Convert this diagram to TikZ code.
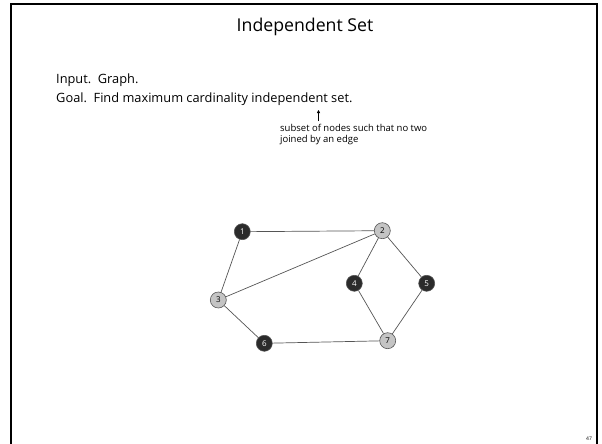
\documentclass[tikz,border=0pt]{standalone}
\usepackage{fontspec}
\setmainfont{Open Sans}
\usetikzlibrary{arrows.meta}
\definecolor{darknode}{HTML}{2B2B2B}
\definecolor{lightnode}{HTML}{C4C4C4}
\definecolor{edgegray}{HTML}{555555}
\tikzset{
  vtx/.style={circle, draw=edgegray, line width=0.6pt, minimum size=16pt, inner sep=0pt, font=\fontsize{8}{8}\selectfont},
  darkvtx/.style={vtx, fill=darknode, text=white},
  lightvtx/.style={vtx, fill=lightnode, text=black},
  edge/.style={draw=edgegray, line width=0.7pt},
  bodytext/.style={anchor=base west, inner sep=0pt, font=\fontsize{12.8}{13}\selectfont},
  note/.style={anchor=base west, inner sep=0pt, font=\fontsize{9.5}{10}\selectfont}
}
\begin{document}
\begin{tikzpicture}[x=1pt, y=-1pt]
\useasboundingbox (0,0) rectangle (602,444);
% slide frame, open at the bottom
\draw[line width=2pt] (11,444) -- (11,4) -- (597,4) -- (597,444);

\node[anchor=base, inner sep=0pt, font=\fontsize{17.7}{18}\selectfont] (title) at (305,31.5) {Independent Set};
\node[bodytext] (input) at (56,83) {Input.\ \ Graph.};
\node[bodytext] (goal) at (56,102) {Goal.\ \ Find maximum cardinality independent set.};
\node[note] (def1) at (280,131) {subset of nodes such that no two};
\node[note] (def2) at (280,142) {joined by an edge};
\coordinate (arrowfoot) at (318.5,121);
\coordinate (arrowtip) at (318.5,110);
\draw[line width=0.45pt, -{Triangle[length=3pt,width=3pt]}] (arrowfoot) -- (arrowtip);

% graph
\node[darkvtx] (n1) at (242.3,231.7) {1};
\node[lightvtx] (n2) at (382.3,230.7) {2};
\node[lightvtx] (n3) at (218.3,300) {3};
\node[darkvtx] (n4) at (354.3,283.3) {4};
\node[darkvtx] (n5) at (426.7,283.3) {5};
\node[darkvtx] (n6) at (264.3,343.3) {6};
\node[lightvtx] (n7) at (387.7,340.7) {7};

\draw[edge] (n1) -- (n2);
\draw[edge] (n1) -- (n3);
\draw[edge] (n2) -- (n3);
\draw[edge] (n2) -- (n4);
\draw[edge] (n2) -- (n5);
\draw[edge] (n3) -- (n6);
\draw[edge] (n4) -- (n7);
\draw[edge] (n5) -- (n7);
\draw[edge] (n6) -- (n7);

\node[inner sep=0pt, font=\fontsize{5}{5}\selectfont] (page) at (589,439) {47};
\end{tikzpicture}
\end{document}
